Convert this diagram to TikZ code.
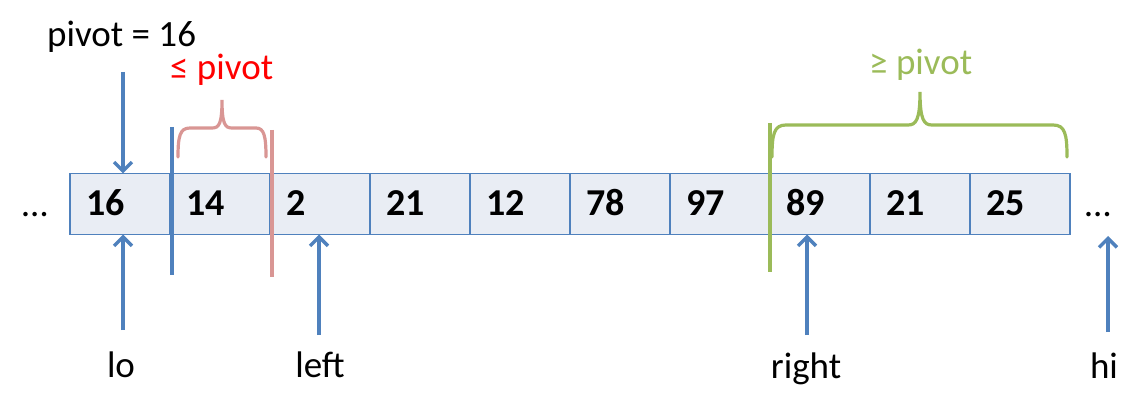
\documentclass[tikz,border=0pt]{standalone}
\usepackage{fontspec}
\setmainfont{Carlito}
\usetikzlibrary{arrows.meta}
\definecolor{oblue}{HTML}{4F81BD}
\definecolor{cellfill}{HTML}{E9EDF4}
\definecolor{ogreen}{HTML}{9BBB59}
\definecolor{opink}{HTML}{D99694}
\tikzset{
  cell/.style={draw=oblue, line width=1.6pt, fill=cellfill, minimum width=100pt, minimum height=61pt, inner sep=0pt, outer sep=0pt},
  num/.style={anchor=base west, inner sep=0pt, font=\fontsize{38}{42}\selectfont\bfseries},
  lbl/.style={anchor=base, inner sep=0pt, font=\fontsize{37}{41}\selectfont},
  ptr/.style={draw=oblue, line width=3.4pt, -{Straight Barb[length=9pt,width=18pt]}},
  bar/.style={line width=3.2pt},
  brace/.style={line width=3.2pt, line cap=round}
}
\begin{document}
\begin{tikzpicture}[x=1pt,y=-1pt]
\useasboundingbox (0,0) rectangle (1142,411);
% cells
\foreach \v [count=\i] in {16,14,2,21,12,78,97,89,21,25}{
  \node[cell] (c\i) at ({20+100*\i},204) {};
  \node[num] (n\i) at ({20+100*\i-50+16},216) {\v};
}
% dots
\node[lbl, anchor=base west] (dl) at (22,217) {…};
\node[lbl, anchor=base west] (dr) at (1085,217) {…};
% top label
\node[lbl, anchor=base west] (pv) at (47,47) {pivot = 16};
\node[lbl, anchor=base west, text=red] (le) at (170,80) {≤ pivot};
\node[lbl, anchor=base west, text=ogreen] (ge) at (869,75) {≥ pivot};
% bottom labels
\node[lbl] (lo) at (121,377) {lo};
\node[lbl] (left) at (320,377) {left};
\node[lbl] (right) at (806,378) {right};
\node[lbl] (hi) at (1104,378) {hi};
% pointer tails
\coordinate (tp) at (123,72);
\coordinate (tlo) at (123,330);
\coordinate (tleft) at (319,335);
\coordinate (tright) at (807,335);
\coordinate (thi) at (1108,332);
\coordinate (hhi) at (1108,236);
\draw[ptr] (tp) -- (tp |- c1.north);
\draw[ptr] (tlo) -- (tlo |- c1.south);
\draw[ptr] (tleft) -- (tleft |- c3.south);
\draw[ptr] (tright) -- (tright |- c8.south);
\draw[ptr] (thi) -- (hhi);
% boundary bars
\draw[bar, oblue] (172,127) -- (172,275);
\draw[bar, opink] (272,130) -- (272,277);
\draw[bar, ogreen] (770,123) -- (770,272);
% braces
\draw[brace, opink] (178,157) .. controls (178,136) and (180,128) .. (190,128)
  -- (212,128) .. controls (219,128) and (222,124) .. (222,100)
  .. controls (222,124) and (225,128) .. (232,128)
  -- (256,128) .. controls (264,128) and (266,136) .. (266,157);
\draw[brace, ogreen] (772,157) .. controls (772,134) and (774,125) .. (786,125)
  -- (908,125) .. controls (916,125) and (920,120) .. (920,92)
  .. controls (920,120) and (924,125) .. (932,125)
  -- (1053,125) .. controls (1065,125) and (1067,134) .. (1067,157);
\end{tikzpicture}
\end{document}
